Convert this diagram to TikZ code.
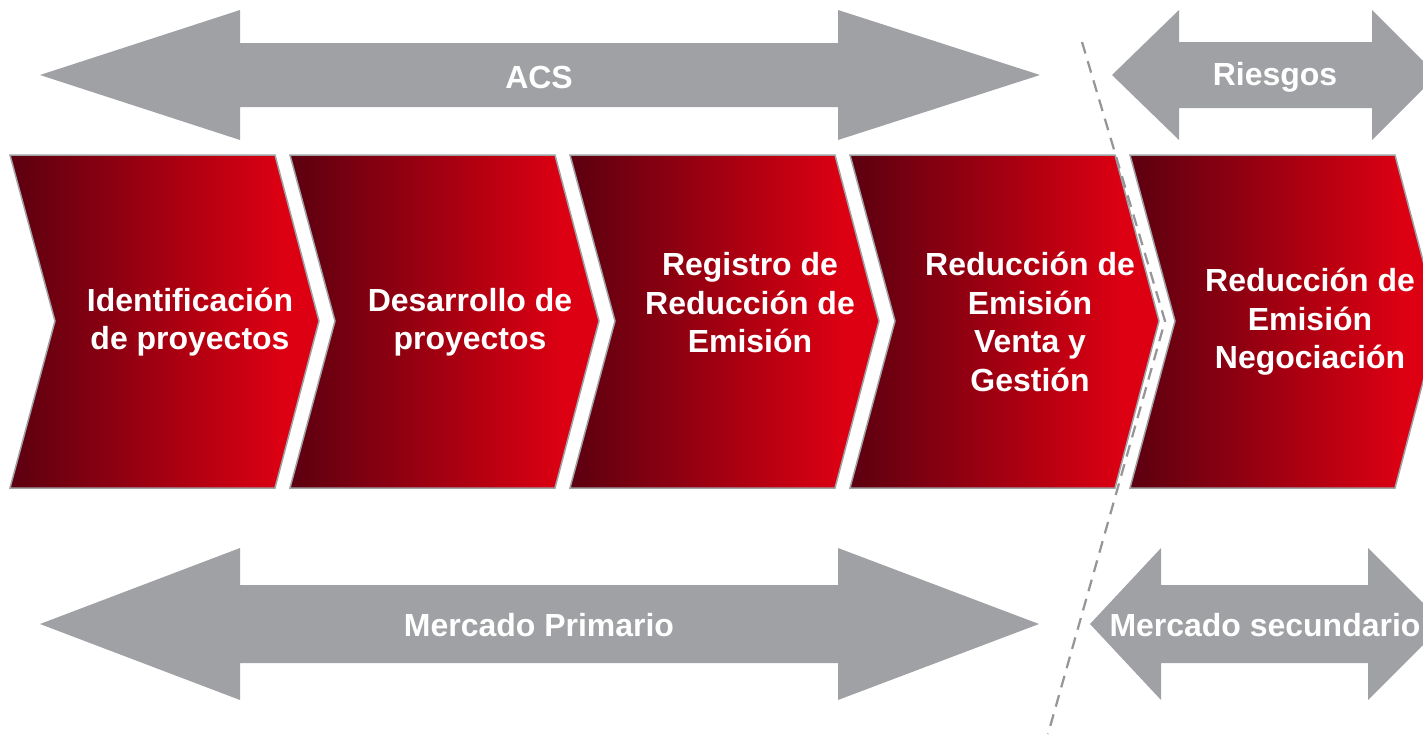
\documentclass[tikz,border=0pt]{standalone}
\usepackage{fontspec}
\setmainfont{Liberation Sans}
\definecolor{arrowgray}{RGB}{160,161,165}
\definecolor{dashgray}{RGB}{150,150,153}
\definecolor{darkred}{RGB}{94,0,16}
\definecolor{brightred}{RGB}{220,0,18}
\pgfdeclarehorizontalshading{redfade}{100bp}{color(0bp)=(darkred); color(26bp)=(darkred);
    color(69bp)=(brightred); color(100bp)=(brightred)}
\begin{document}
\begin{tikzpicture}[x=0.02cm, y=-0.02cm,
        chevron/.style={draw=arrowgray, line width=0.03cm, shading=redfade},
        grayarrow/.style={fill=arrowgray},
        boxtext/.style={text=white, align=center, font=\bfseries\fontsize{18.2}{21.9}\selectfont}]
                \useasboundingbox (0, 0) rectangle (1423, 734);
                \clip (0, 0) rectangle (1423, 734);
                % gray arrows on top
                \fill [grayarrow] (40, 75) -- (240, 10) -- (240, 43) -- (838, 43) -- (838, 10) -- (1040, 75)
                    -- (838, 140) -- (838, 107) -- (240, 107) -- (240, 140) -- cycle;
                \fill [grayarrow] (1112, 75) -- (1179, 10) -- (1179, 42) -- (1372, 42) -- (1372, 10) -- (1437, 75)
                    -- (1372, 140) -- (1372, 108) -- (1179, 108) -- (1179, 140) -- cycle;
                % gray arrows at the bottom
                \fill [grayarrow] (40, 624) -- (240, 548) -- (240, 585) -- (838, 585) -- (838, 548) -- (1039, 624)
                    -- (838, 700) -- (838, 663) -- (240, 663) -- (240, 700) -- cycle;
                \fill [grayarrow] (1090, 624) -- (1161, 548) -- (1161, 585) -- (1368, 585) -- (1368, 548) -- (1444, 624)
                    -- (1368, 700) -- (1368, 663) -- (1161, 663) -- (1161, 700) -- cycle;
                \node [boxtext] (acs) at (539, 77) {ACS};
                \node [boxtext] (riesgos) at (1275, 77) {Riesgos};
                \node [boxtext] (primario) at (539, 625) {Mercado Primario};
                \node [boxtext] (secundario) at (1265, 625) {Mercado secundario};
                % chevrons
                \foreach \l in {10, 290, 570, 850, 1130}
                    \draw [chevron] (\l, 155) -- (\l+265, 155) -- (\l+309, 321) -- (\l+265, 488)
                        -- (\l, 488) -- (\l+45, 321) -- cycle;
                \node [boxtext] (ident) at (190, 322) {Identificación\\de proyectos};
                \node [boxtext] (desarrollo) at (470, 322) {Desarrollo de\\proyectos};
                \node [boxtext] (registro) at (750, 303) {Registro de\\Reducción de\\Emisión};
                \node [boxtext] (venta) at (1030, 322) {Reducción de\\Emisión\\Venta y\\Gestión};
                \node [boxtext] (negociacion) at (1310, 322) {Reducción de\\Emisión\\Negociación};
                % dashed divider
                \coordinate (cuttop) at (1082, 42);
                \coordinate (cutmid) at (1165, 321);
                \coordinate (cutbot) at (1048, 734);
                \draw [dashgray, line width=0.045cm, dash pattern=on 0.24cm off 0.16cm] (cuttop) -- (cutmid) -- (cutbot);
            \end{tikzpicture}
\end{document}
